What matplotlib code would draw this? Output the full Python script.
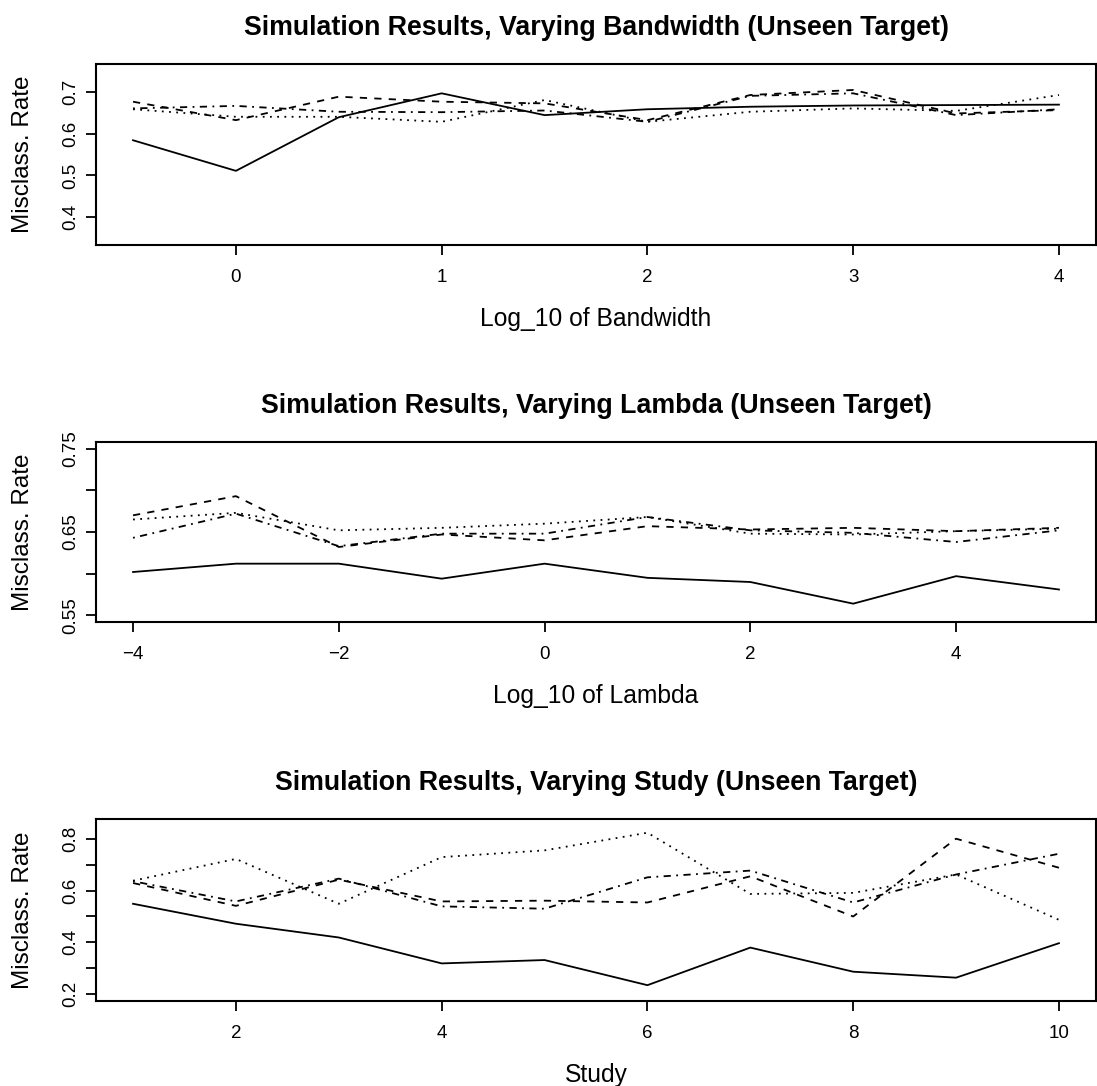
import matplotlib
matplotlib.use('Agg')
import matplotlib.pyplot as plt

plt.rcParams['font.family'] = ['Liberation Sans', 'DejaVu Sans']
plt.rcParams['axes.unicode_minus'] = True

# panel 1: varying bandwidth
bw_x = [-0.5, 0, 0.5, 1, 1.5, 2, 2.5, 3, 3.5, 4]
bw_solid = [0.584, 0.511, 0.639, 0.696, 0.644, 0.658, 0.664, 0.667, 0.668, 0.669]
bw_dashed = [0.676, 0.632, 0.688, 0.676, 0.672, 0.632, 0.692, 0.704, 0.648, 0.656]
bw_dotted = [0.658, 0.640, 0.640, 0.628, 0.680, 0.628, 0.652, 0.660, 0.654, 0.692]
bw_dotdash = [0.660, 0.666, 0.652, 0.651, 0.655, 0.628, 0.690, 0.696, 0.644, 0.658]

# panel 2: varying lambda
lam_x = [-4, -3, -2, -1, 0, 1, 2, 3, 4, 5]
lam_solid = [0.602, 0.612, 0.612, 0.594, 0.612, 0.595, 0.590, 0.564, 0.597, 0.581]
lam_dashed = [0.670, 0.693, 0.632, 0.647, 0.640, 0.657, 0.653, 0.655, 0.651, 0.655]
lam_dotted = [0.665, 0.673, 0.652, 0.655, 0.660, 0.668, 0.648, 0.647, 0.651, 0.654]
lam_dotdash = [0.643, 0.672, 0.633, 0.648, 0.648, 0.668, 0.652, 0.649, 0.638, 0.652]

# panel 3: varying study
st_x = [1, 2, 3, 4, 5, 6, 7, 8, 9, 10]
st_solid = [0.549, 0.472, 0.419, 0.319, 0.332, 0.235, 0.380, 0.287, 0.264, 0.397]
st_dashed = [0.629, 0.541, 0.642, 0.558, 0.561, 0.554, 0.655, 0.500, 0.800, 0.688]
st_dotted = [0.638, 0.722, 0.549, 0.729, 0.755, 0.823, 0.587, 0.591, 0.662, 0.487]
st_dotdash = [0.636, 0.558, 0.646, 0.539, 0.530, 0.651, 0.677, 0.554, 0.662, 0.742]

panels = [
    dict(title='Simulation Results, Varying Bandwidth (Unseen Target)',
         xlabel='Log_10 of Bandwidth', x=bw_x,
         ys=[bw_solid, bw_dashed, bw_dotted, bw_dotdash],
         ylim=(0.35, 0.75), xticks=[0, 1, 2, 3, 4],
         yticks=[0.4, 0.5, 0.6, 0.7], ylabels=['0.4', '0.5', '0.6', '0.7']),
    dict(title='Simulation Results, Varying Lambda (Unseen Target)',
         xlabel='Log_10 of Lambda', x=lam_x,
         ys=[lam_solid, lam_dashed, lam_dotted, lam_dotdash],
         ylim=(0.55, 0.75), xticks=[-4, -2, 0, 2, 4],
         yticks=[0.55, 0.60, 0.65, 0.70, 0.75], ylabels=['0.55', '', '0.65', '', '0.75']),
    dict(title='Simulation Results, Varying Study (Unseen Target)',
         xlabel='Study', x=st_x,
         ys=[st_solid, st_dashed, st_dotted, st_dotdash],
         ylim=(0.2, 0.85), xticks=[2, 4, 6, 8, 10],
         yticks=[0.2, 0.3, 0.4, 0.5, 0.6, 0.7, 0.8],
         ylabels=['0.2', '', '0.4', '', '0.6', '', '0.8']),
]

styles = ['-', (0, (4.0, 4.0)), (0, (1.0, 3.0)), (0, (1.0, 3.0, 4.0, 3.0))]

W, H = 1097, 1086
fig = plt.figure(figsize=(W / 100, H / 100), dpi=100)

# axes boxes in pixels: (left, top, right, bottom)
boxes = [(96, 64, 1096, 245), (96, 442, 1096, 622), (96, 819, 1096, 1001)]

for p, (l, t, r, b) in zip(panels, boxes):
    ax = fig.add_axes([l / W, (H - b) / H, (r - l) / W, (b - t) / H])
    for y, ls in zip(p['ys'], styles):
        ax.plot(p['x'], y, color='black', lw=1.3, linestyle=ls)
    x0, x1 = min(p['x']), max(p['x'])
    dx = (x1 - x0) * 0.04
    ax.set_xlim(x0 - dx, x1 + dx)
    y0, y1 = p['ylim']
    dy = (y1 - y0) * 0.04
    ax.set_ylim(y0 - dy, y1 + dy)
    ax.set_xticks(p['xticks'])
    ax.set_xticklabels([str(v).replace('-', '\u2212') for v in p['xticks']])
    ax.set_yticks(p['yticks'])
    ax.set_yticklabels(p['ylabels'], rotation=90, va='center')
    ax.tick_params(direction='out', length=7.2, width=1.3, labelsize=13.5, color='black')
    ax.tick_params(axis='x', pad=10)
    ax.tick_params(axis='y', pad=4.5)
    for s in ax.spines.values():
        s.set_linewidth(1.5)
    hpx = b - t
    wpx = r - l
    ax.text(0.5, 1 + 36 / hpx, p['title'], transform=ax.transAxes,
            ha='center', va='center', fontsize=19.3, fontweight='bold')
    ax.set_xlabel(p['xlabel'], fontsize=17.7)
    ax.xaxis.set_label_coords(0.5, -74 / hpx)
    ax.xaxis.label.set_va('center')
    ax.set_ylabel('Misclass. Rate', fontsize=17.5)
    ax.yaxis.set_label_coords(-73 / wpx, 0.5)
    ax.yaxis.label.set_va('center')

fig.savefig('out.png', dpi=100)
